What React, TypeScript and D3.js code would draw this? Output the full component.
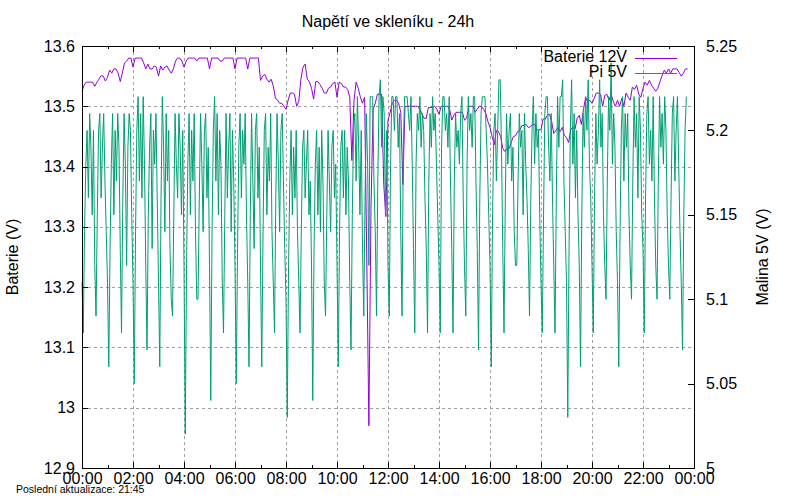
import { useRef, useEffect } from 'react';
import * as d3 from 'd3';

const START = new Date(2024, 0, 1, 0, 0);
const END = new Date(2024, 0, 2, 0, 0);

const title = 'Napětí ve skleníku - 24h';
const lastUpdate = 'Poslední aktualizace: 21:45';
const leftLabel = 'Baterie (V)';
const rightLabel = 'Malina 5V (V)';
const seriesNames = ['Baterie 12V', 'Pi 5V'];
const seriesColors = ['#9400d3', '#009e73'];

const leftTicks = [12.9, 13, 13.1, 13.2, 13.3, 13.4, 13.5, 13.6];
const rightTicks = [5, 5.05, 5.1, 5.15, 5.2, 5.25];

// Baterie 12V, one reading every 5 minutes from 00:00
const batteryStepMin = 5;
const batteryVolts = [
  13.525, 13.535, 13.54, 13.54, 13.54, 13.54, 13.533, 13.54, 13.545, 13.551, 13.55, 13.542,
  13.548, 13.56, 13.555, 13.562, 13.562, 13.555, 13.541, 13.555, 13.572, 13.575, 13.58, 13.58,
  13.565, 13.58, 13.58, 13.58, 13.58, 13.572, 13.562, 13.57, 13.562, 13.562, 13.567, 13.565,
  13.55, 13.567, 13.56, 13.565, 13.567, 13.56, 13.555, 13.562, 13.575, 13.58, 13.58, 13.575,
  13.565, 13.575, 13.58, 13.58, 13.58, 13.58, 13.575, 13.58, 13.58, 13.58, 13.58, 13.58,
  13.562, 13.58, 13.58, 13.58, 13.58, 13.575, 13.575, 13.58, 13.58, 13.58, 13.58, 13.58,
  13.562, 13.58, 13.58, 13.58, 13.58, 13.58, 13.562, 13.58, 13.58, 13.58, 13.58, 13.58,
  13.543, 13.55, 13.553, 13.545, 13.54, 13.545, 13.534, 13.514, 13.51, 13.505, 13.505, 13.5,
  13.495, 13.51, 13.522, 13.522, 13.52, 13.5, 13.508, 13.545, 13.565, 13.57, 13.545, 13.541,
  13.53, 13.512, 13.541, 13.541, 13.536, 13.53, 13.522, 13.522, 13.53, 13.532, 13.538, 13.54,
  13.515, 13.54, 13.538, 13.532, 13.532, 13.528, 13.515, 13.41, 13.51, 13.54, 13.53, 13.515,
  13.505, 13.515, 13.25, 12.97, 13.333, 13.495, 13.505, 13.52, 13.52, 13.52, 13.37, 13.317,
  13.477, 13.49, 13.505, 13.51, 13.51, 13.505, 13.49, 13.37, 13.5, 13.5, 13.5, 13.5,
  13.5, 13.5, 13.5, 13.495, 13.487, 13.48, 13.48, 13.498, 13.498, 13.498, 13.5, 13.495,
  13.487, 13.5, 13.5, 13.5, 13.5, 13.495, 13.477, 13.485, 13.49, 13.49, 13.49, 13.49,
  13.477, 13.48, 13.5, 13.5, 13.5, 13.49, 13.495, 13.5, 13.5, 13.495, 13.488, 13.475,
  13.465, 13.45, 13.436, 13.46, 13.458, 13.45, 13.43, 13.425, 13.43, 13.43, 13.44, 13.45,
  13.451, 13.458, 13.46, 13.468, 13.468, 13.47, 13.465, 13.466, 13.47, 13.47, 13.461, 13.461,
  13.461, 13.479, 13.479, 13.485, 13.487, 13.475, 13.455, 13.46, 13.465, 13.458, 13.465, 13.452,
  13.448, 13.44, 13.462, 13.465, 13.462, 13.48, 13.485, 13.47, 13.495, 13.515, 13.507, 13.51,
  13.505, 13.513, 13.522, 13.522, 13.52, 13.5, 13.518, 13.52, 13.51, 13.52, 13.508, 13.5,
  13.51, 13.5, 13.513, 13.5, 13.522, 13.515, 13.51, 13.532, 13.528, 13.535, 13.52, 13.515,
  13.53, 13.54, 13.535, 13.543, 13.535, 13.53, 13.525, 13.53, 13.541, 13.551, 13.56, 13.555,
  13.562, 13.555, 13.562, 13.562, 13.562, 13.556, 13.55, 13.555, 13.562, 13.562,
];

// Pi 5V, one reading every 3 minutes from 00:00 (each row is half an hour)
const piStepMin = 3;
const piVolts = [
  5.11,
  5.08, 5.14, 5.18, 5.20, 5.16, 5.21, 5.19, 5.15, 5.20, 5.12,
  5.09, 5.15, 5.20, 5.21, 5.16, 5.19, 5.21, 5.17, 5.14, 5.11,
  5.06, 5.13, 5.18, 5.21, 5.15, 5.20, 5.17, 5.21, 5.19, 5.13,
  5.08, 5.16, 5.21, 5.18, 5.12, 5.19, 5.21, 5.20, 5.15, 5.11,
  5.05, 5.14, 5.20, 5.22, 5.17, 5.21, 5.16, 5.22, 5.18, 5.12,
  5.07, 5.15, 5.19, 5.21, 5.13, 5.20, 5.18, 5.21, 5.16, 5.11,
  5.06, 5.16, 5.22, 5.19, 5.14, 5.21, 5.17, 5.20, 5.13, 5.10,
  5.09, 5.15, 5.21, 5.18, 5.16, 5.21, 5.19, 5.15, 5.20, 5.12,
  5.02, 5.12, 5.18, 5.21, 5.15, 5.20, 5.17, 5.21, 5.14, 5.10,
  5.10, 5.16, 5.21, 5.18, 5.14, 5.20, 5.21, 5.16, 5.19, 5.12,
  5.04, 5.14, 5.20, 5.22, 5.17, 5.21, 5.15, 5.20, 5.18, 5.11,
  5.08, 5.15, 5.21, 5.16, 5.19, 5.21, 5.14, 5.20, 5.17, 5.12,
  5.05, 5.13, 5.19, 5.21, 5.16, 5.20, 5.18, 5.21, 5.15, 5.11,
  5.06, 5.15, 5.21, 5.17, 5.13, 5.20, 5.21, 5.16, 5.19, 5.12,
  5.06, 5.14, 5.20, 5.21, 5.15, 5.19, 5.17, 5.21, 5.14, 5.11,
  5.08, 5.16, 5.21, 5.18, 5.14, 5.20, 5.21, 5.17, 5.13, 5.10,
  5.03, 5.12, 5.17, 5.20, 5.15, 5.19, 5.16, 5.20, 5.14, 5.11,
  5.08, 5.14, 5.19, 5.20, 5.16, 5.18, 5.20, 5.15, 5.17, 5.12,
  5.04, 5.13, 5.18, 5.20, 5.15, 5.19, 5.14, 5.20, 5.17, 5.11,
  5.09, 5.15, 5.20, 5.17, 5.14, 5.19, 5.20, 5.16, 5.18, 5.12,
  5.06, 5.14, 5.19, 5.20, 5.16, 5.20, 5.15, 5.19, 5.17, 5.11,
  5.07, 5.15, 5.20, 5.21, 5.17, 5.22, 5.19, 5.15, 5.20, 5.13,
  5.09, 5.16, 5.21, 5.18, 5.12, 5.22, 5.22, 5.22, 5.17, 5.14,
  5.09, 5.17, 5.22, 5.23, 5.19, 5.22, 5.21, 5.15, 5.20, 5.12,
  5.09, 5.18, 5.22, 5.22, 5.20, 5.22, 5.22, 5.19, 5.21, 5.14,
  5.09, 5.19, 5.22, 5.22, 5.22, 5.21, 5.20, 5.22, 5.18, 5.13,
  5.08, 5.18, 5.21, 5.20, 5.22, 5.19, 5.21, 5.20, 5.16, 5.13,
  5.08, 5.17, 5.21, 5.19, 5.22, 5.20, 5.21, 5.18, 5.15, 5.12,
  5.08, 5.19, 5.22, 5.22, 5.20, 5.21, 5.19, 5.22, 5.17, 5.13,
  5.08, 5.17, 5.21, 5.19, 5.20, 5.18, 5.21, 5.22, 5.16, 5.12,
  5.09, 5.18, 5.22, 5.20, 5.21, 5.19, 5.22, 5.22, 5.17, 5.13,
  5.07, 5.16, 5.21, 5.22, 5.22, 5.22, 5.20, 5.18, 5.15, 5.12,
  5.06, 5.15, 5.20, 5.21, 5.17, 5.20, 5.23, 5.23, 5.19, 5.13,
  5.08, 5.16, 5.21, 5.18, 5.20, 5.21, 5.17, 5.19, 5.14, 5.12,
  5.12, 5.17, 5.21, 5.19, 5.20, 5.15, 5.21, 5.18, 5.16, 5.13,
  5.09, 5.16, 5.20, 5.22, 5.18, 5.21, 5.19, 5.20, 5.15, 5.11,
  5.08, 5.15, 5.21, 5.22, 5.22, 5.19, 5.17, 5.21, 5.16, 5.12,
  5.08, 5.16, 5.22, 5.19, 5.22, 5.22, 5.23, 5.17, 5.14, 5.11,
  5.03, 5.13, 5.20, 5.23, 5.18, 5.21, 5.16, 5.20, 5.15, 5.12,
  5.06, 5.15, 5.21, 5.19, 5.22, 5.20, 5.23, 5.18, 5.16, 5.12,
  5.08, 5.16, 5.21, 5.18, 5.20, 5.23, 5.19, 5.21, 5.15, 5.12,
  5.10, 5.17, 5.22, 5.20, 5.24, 5.18, 5.21, 5.19, 5.14, 5.11,
  5.06, 5.14, 5.20, 5.22, 5.17, 5.21, 5.19, 5.21, 5.15, 5.12,
  5.10, 5.17, 5.22, 5.19, 5.21, 5.16, 5.22, 5.20, 5.15, 5.13,
  5.08, 5.16, 5.21, 5.22, 5.18, 5.20, 5.17, 5.22, 5.16, 5.12,
  5.10, 5.17, 5.22, 5.19, 5.21, 5.18, 5.22, 5.20, 5.15, 5.12,
  5.10, 5.16, 5.21, 5.22, 5.17, 5.20, 5.22, 5.18, 5.14, 5.11,
  5.07, 5.15, 5.20, 5.22,
];

const FONT = '"Liberation Sans", Arial, sans-serif';

const App = () => {
  const svgRef = useRef<SVGSVGElement>(null);

  useEffect(() => {
    const svg = d3.select(svgRef.current);
    svg.selectAll('*').remove();

    const left = 82, right = 694, top = 46, bottom = 468;

    const x = d3.scaleTime().domain([START, END]).range([left, right]);
    const yL = d3.scaleLinear().domain([12.9, 13.6]).range([bottom, top]);
    const yR = d3.scaleLinear().domain([5, 5.25]).range([bottom, top]);

    const majors = x.ticks(d3.timeHour.every(2)!);
    const minors = x.ticks(d3.timeHour.every(1)!).filter(d => d.getHours() % 2 === 1);

    // grid
    const grid = svg.append('g')
      .attr('stroke', '#a0a0a0')
      .attr('stroke-dasharray', '3,3')
      .attr('shape-rendering', 'crispEdges');
    grid.selectAll('.gx')
      .data(majors.slice(1, -1))
      .enter().append('line')
      .attr('x1', d => x(d) + 0.5).attr('x2', d => x(d) + 0.5)
      .attr('y1', top).attr('y2', bottom);
    grid.selectAll('.gy')
      .data(leftTicks.slice(1, -1))
      .enter().append('line')
      .attr('x1', left).attr('x2', right)
      .attr('y1', d => yL(d) + 0.5).attr('y2', d => yL(d) + 0.5);

    // data
    const timeAt = (step: number) => (i: number) => new Date(START.getTime() + i * step * 60000);
    const tBat = timeAt(batteryStepMin);
    const tPi = timeAt(piStepMin);

    const batLine = d3.line<number>()
      .x((_, i) => x(tBat(i)))
      .y(d => yL(d));
    const piLine = d3.line<number>()
      .x((_, i) => x(tPi(i)))
      .y(d => yR(d));

    svg.append('path')
      .attr('d', batLine(batteryVolts))
      .attr('fill', 'none')
      .attr('stroke', seriesColors[0])
      .attr('stroke-width', 1);
    svg.append('path')
      .attr('d', piLine(piVolts))
      .attr('fill', 'none')
      .attr('stroke', seriesColors[1])
      .attr('stroke-width', 1);

    // axes, gnuplot style: ticks pointing inward
    const styleAxis = (g: d3.Selection<SVGGElement, unknown, null, undefined>) => {
      g.select('.domain').remove();
      g.attr('font-family', FONT).attr('font-size', 16);
      g.selectAll('line').attr('stroke', '#000').attr('shape-rendering', 'crispEdges');
      g.selectAll('text').attr('fill', '#000');
    };
    const noLabel = () => '';

    svg.append('g')
      .attr('transform', `translate(0,${bottom})`)
      .call(d3.axisBottom(x).tickValues(majors).tickSize(-6).tickPadding(5)
        .tickFormat(d => d3.timeFormat('%H:%M')(d as Date)))
      .call(styleAxis);
    svg.append('g')
      .attr('transform', `translate(0,${bottom})`)
      .call(d3.axisBottom(x).tickValues(minors).tickSize(-3).tickFormat(noLabel))
      .call(styleAxis);
    svg.append('g')
      .attr('transform', `translate(0,${top})`)
      .call(d3.axisTop(x).tickValues(majors).tickSize(-6).tickFormat(noLabel))
      .call(styleAxis);
    svg.append('g')
      .attr('transform', `translate(0,${top})`)
      .call(d3.axisTop(x).tickValues(minors).tickSize(-3).tickFormat(noLabel))
      .call(styleAxis);
    svg.append('g')
      .attr('transform', `translate(${left},0)`)
      .call(d3.axisLeft(yL).tickValues(leftTicks).tickSize(-6).tickPadding(7)
        .tickFormat(d => String(d)))
      .call(styleAxis);
    svg.append('g')
      .attr('transform', `translate(${right},0)`)
      .call(d3.axisRight(yR).tickValues(rightTicks).tickSize(-6).tickPadding(12)
        .tickFormat(d => String(d)))
      .call(styleAxis);

    // border
    svg.append('rect')
      .attr('x', left + 0.5).attr('y', top + 0.5)
      .attr('width', right - left).attr('height', bottom - top)
      .attr('fill', 'none').attr('stroke', '#000')
      .attr('shape-rendering', 'crispEdges');

    // legend
    const legend = svg.append('g').attr('font-family', FONT).attr('font-size', 16);
    seriesNames.forEach((name, i) => {
      const ty = 62 + i * 15;
      legend.append('text')
        .attr('x', 627).attr('y', ty)
        .attr('text-anchor', 'end')
        .text(name);
      legend.append('line')
        .attr('x1', 635).attr('x2', 677)
        .attr('y1', ty - 3.5).attr('y2', ty - 3.5)
        .attr('stroke', seriesColors[i]);
    });

    // titles
    svg.append('text')
      .attr('x', (left + right) / 2).attr('y', 27)
      .attr('text-anchor', 'middle')
      .attr('font-family', FONT).attr('font-size', 16)
      .text(title);
    svg.append('text')
      .attr('transform', `translate(18,${(top + bottom) / 2}) rotate(-90)`)
      .attr('text-anchor', 'middle')
      .attr('font-family', FONT).attr('font-size', 16)
      .text(leftLabel);
    svg.append('text')
      .attr('transform', `translate(768,${(top + bottom) / 2}) rotate(-90)`)
      .attr('text-anchor', 'middle')
      .attr('font-family', FONT).attr('font-size', 16)
      .text(rightLabel);
    svg.append('text')
      .attr('x', 16).attr('y', 493)
      .attr('font-family', FONT).attr('font-size', 10.5)
      .text(lastUpdate);
  }, []);

  return (
    <svg
      ref={svgRef}
      width={800}
      height={500}
      style={{ position: 'absolute', left: 0, top: 0, background: '#fff' }}
    ></svg>
  );
};

export default App;
